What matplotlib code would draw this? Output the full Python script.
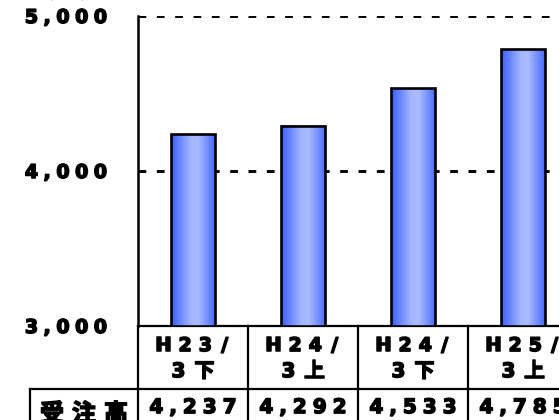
import numpy as np
import matplotlib
matplotlib.use('Agg')
import matplotlib.pyplot as plt
import matplotlib.patheffects as pe
from matplotlib.colors import LinearSegmentedColormap

plt.rcParams['font.family'] = ['DejaVu Sans', 'Noto Sans CJK JP']
plt.rcParams['lines.scale_dashes'] = False

categories = ['H23/\n3下', 'H24/\n3上', 'H24/\n3下', 'H25/\n3上']
values = [4237, 4292, 4533, 4785]
value_labels = ['4,237', '4,292', '4,533', '4,785']
yticks = [3000, 4000, 5000]
ytick_labels = ['3,000', '4,000', '5,000']
row_header = '受注高'
unit_label = '（億円）'

DPI = 100
W, H = 559, 420
heavy = [pe.withStroke(linewidth=1.1, foreground='black')]


def char_width(c):
    # rough advance widths in em (DejaVu Sans Bold / CJK)
    if c.isdigit():
        return 0.696
    if c in ',.':
        return 0.38
    if c == 'H':
        return 0.837
    if c == '/':
        return 0.6
    return 1.0


def spaced_text(ax, x, y, s, size_px, track, xycoords, align='center', dx=0, dy=0):
    # draw a string one char at a time with extra letter spacing
    widths = [char_width(c) * size_px for c in s]
    total = sum(widths) + track * (len(s) - 1)
    pos = -total / 2 if align == 'center' else -total
    for c, w in zip(s, widths):
        off = (pos + w / 2 + dx) * 72 / DPI
        ax.annotate(c, xy=(x, y), xycoords=xycoords,
                    xytext=(off, dy * 72 / DPI), textcoords='offset points',
                    ha='center', va='baseline', fontsize=size_px * 72 / DPI,
                    fontweight='bold', color='black', annotation_clip=False,
                    path_effects=heavy)
        pos += w + track


fig = plt.figure(figsize=(W / DPI, H / DPI), dpi=DPI)
ax = fig.add_axes([138 / W, 94 / H, 440 / W, 310 / H])

x = np.arange(len(values))

# dashed grid lines
for v in yticks[1:]:
    ax.axhline(v, color='black', lw=2.1, linestyle=(0, (5.6, 7.6)), zorder=1)

# bars with a horizontal blue gradient
cmap = LinearSegmentedColormap.from_list('bar', [
    (0.0, '#3b5fff'), (0.45, '#a4b6ff'), (0.62, '#aabbff'), (1.0, '#4a6cff')])
grad = np.linspace(0, 1, 64).reshape(1, -1)
bar_w = 0.4
bars = ax.bar(x, np.array(values) - 3000, bottom=3000, width=bar_w,
              facecolor='none', edgecolor='black', linewidth=1.9, zorder=4)
for b in bars:
    x0, y0 = b.get_x(), b.get_y()
    ax.imshow(grad, cmap=cmap, aspect='auto', zorder=3,
              extent=(x0, x0 + b.get_width(), y0, y0 + b.get_height()))
ax.set_xlim(-0.5, len(values) - 0.5)
ax.set_ylim(3000, 5000)

for s in ['top', 'right']:
    ax.spines[s].set_visible(False)
ax.spines['left'].set_linewidth(1.8)
ax.spines['bottom'].set_linewidth(1.6)
ax.set_xticks([])
ax.set_yticks([])

# y tick labels
for v, lab in zip(yticks, ytick_labels):
    spaced_text(ax, -0.5, v, lab, 19, 5.5, 'data', align='right', dx=-31, dy=-7)

# table lines under the axis
xt = ax.get_xaxis_transform()
row_line = -0.203
bottom = -0.35
for b in np.arange(len(values) + 1) - 0.5:
    ax.plot([b, b], [0, bottom], color='black', lw=1.6, transform=xt, clip_on=False)
left_edge = -0.5 - 108 / 110
ax.plot([left_edge, len(values)], [row_line, row_line], color='black', lw=1.6,
        transform=xt, clip_on=False)
ax.plot([left_edge, left_edge], [row_line, bottom], color='black', lw=1.6,
        transform=xt, clip_on=False)

# category labels and values
for i, (cat, lab) in enumerate(zip(categories, value_labels)):
    line1, line2 = cat.split('\n')
    spaced_text(ax, i, -0.081, line1, 19, 7, xt)
    spaced_text(ax, i, -0.165, line2, 20, 9, xt)
    spaced_text(ax, i, -0.281, lab, 20, 6, xt)

spaced_text(ax, (left_edge - 0.5) / 2, -0.307, row_header, 24, 8, xt)

fig.text(68 / W, 1 + 1 / H, unit_label, ha='center', va='baseline',
         fontsize=10, fontweight='bold')

fig.savefig('out.png', dpi=DPI)
